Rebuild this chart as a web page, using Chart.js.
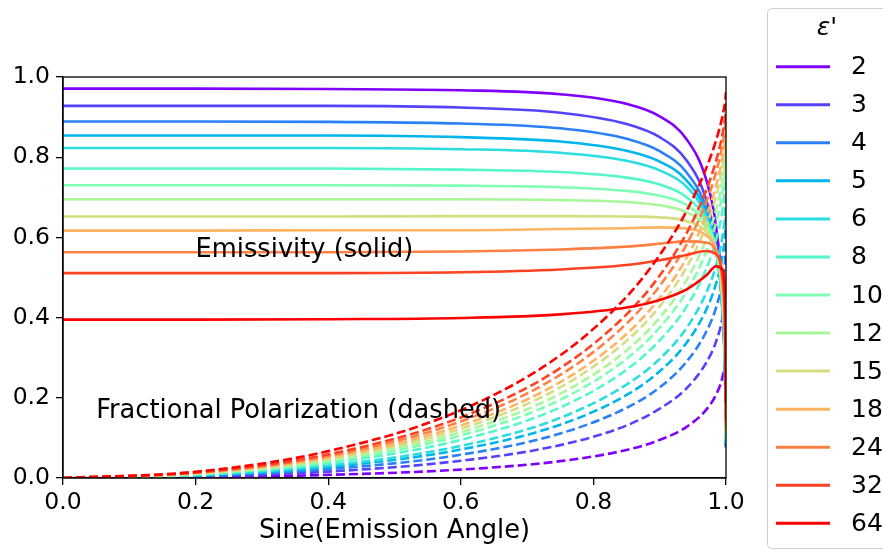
<!DOCTYPE html>
<html>
<head>
<meta charset="utf-8">
<script src="https://cdn.jsdelivr.net/npm/chart.js@4"></script>
<style>
  body { margin: 0; background: #fff; }
  canvas { display: block; }
</style>
</head>
<body>
<canvas id="myChart" width="883" height="553"></canvas>
<script>
// Dielectric constants shown in the legend
const epsValues = ['2', '3', '4', '5', '6', '8', '10', '12', '15', '18', '24', '32', '64'];

// Sine of the emission angle where the curves were read
const sineAngle = [0, 0.2, 0.4, 0.6, 0.75, 0.85, 0.9, 0.94, 0.97, 0.985, 0.995, 0.999, 0.9999];

// Emissivity (solid lines), one row per epsilon
const emissivity = [
    [0.971, 0.971, 0.970, 0.967, 0.957, 0.933, 0.902, 0.846, 0.745, 0.627, 0.441, 0.232, 0.081], // 2
    [0.928, 0.928, 0.928, 0.924, 0.911, 0.883, 0.850, 0.793, 0.695, 0.584, 0.411, 0.218, 0.076], // 3
    [0.889, 0.889, 0.888, 0.884, 0.872, 0.846, 0.815, 0.763, 0.674, 0.571, 0.407, 0.219, 0.077], // 4
    [0.854, 0.854, 0.854, 0.850, 0.839, 0.816, 0.789, 0.743, 0.662, 0.566, 0.410, 0.224, 0.080], // 5
    [0.823, 0.823, 0.823, 0.820, 0.811, 0.791, 0.767, 0.727, 0.653, 0.565, 0.415, 0.230, 0.083], // 6
    [0.772, 0.772, 0.772, 0.769, 0.763, 0.749, 0.732, 0.701, 0.642, 0.565, 0.426, 0.242, 0.089], // 8
    [0.730, 0.730, 0.730, 0.729, 0.725, 0.716, 0.704, 0.681, 0.633, 0.566, 0.437, 0.255, 0.095], // 10
    [0.695, 0.695, 0.695, 0.695, 0.693, 0.688, 0.680, 0.663, 0.625, 0.567, 0.447, 0.266, 0.101], // 12
    [0.652, 0.652, 0.652, 0.653, 0.653, 0.652, 0.650, 0.641, 0.614, 0.568, 0.459, 0.281, 0.109], // 15
    [0.617, 0.617, 0.618, 0.618, 0.621, 0.623, 0.625, 0.622, 0.605, 0.567, 0.469, 0.295, 0.116], // 18
    [0.563, 0.563, 0.563, 0.565, 0.570, 0.577, 0.584, 0.590, 0.587, 0.564, 0.484, 0.317, 0.129], // 24
    [0.511, 0.511, 0.511, 0.513, 0.520, 0.531, 0.543, 0.556, 0.566, 0.558, 0.498, 0.341, 0.144], // 32
    [0.395, 0.395, 0.396, 0.399, 0.408, 0.425, 0.444, 0.470, 0.505, 0.528, 0.519, 0.401, 0.187]  // 64
];

// Fractional polarization (dashed lines), one row per epsilon
const polarization = [
    [0, 0.0018, 0.0078, 0.021, 0.042, 0.070, 0.095, 0.127, 0.170, 0.208, 0.254, 0.296, 0.321], // 2
    [0, 0.0037, 0.016, 0.043, 0.082, 0.131, 0.173, 0.223, 0.287, 0.340, 0.402, 0.454, 0.485],  // 3
    [0, 0.0051, 0.022, 0.058, 0.111, 0.175, 0.226, 0.289, 0.364, 0.425, 0.494, 0.551, 0.584],  // 4
    [0, 0.0063, 0.027, 0.071, 0.133, 0.207, 0.266, 0.336, 0.419, 0.485, 0.559, 0.617, 0.651],  // 5
    [0, 0.0072, 0.031, 0.080, 0.150, 0.233, 0.297, 0.373, 0.461, 0.530, 0.606, 0.665, 0.699],  // 6
    [0, 0.0085, 0.037, 0.095, 0.176, 0.270, 0.343, 0.426, 0.521, 0.594, 0.671, 0.730, 0.763],  // 8
    [0, 0.0096, 0.041, 0.106, 0.195, 0.297, 0.375, 0.464, 0.563, 0.637, 0.715, 0.773, 0.804],  // 10
    [0, 0.0104, 0.044, 0.114, 0.210, 0.318, 0.400, 0.492, 0.594, 0.669, 0.746, 0.803, 0.833],  // 12
    [0, 0.0112, 0.048, 0.123, 0.226, 0.342, 0.428, 0.524, 0.628, 0.703, 0.779, 0.834, 0.862],  // 15
    [0, 0.0119, 0.051, 0.131, 0.239, 0.359, 0.449, 0.547, 0.653, 0.728, 0.803, 0.856, 0.883],  // 18
    [0, 0.0129, 0.055, 0.141, 0.257, 0.385, 0.479, 0.581, 0.687, 0.763, 0.835, 0.885, 0.909],  // 24
    [0, 0.0138, 0.059, 0.151, 0.274, 0.408, 0.505, 0.609, 0.717, 0.791, 0.861, 0.907, 0.930],  // 32
    [0, 0.0156, 0.067, 0.169, 0.306, 0.452, 0.556, 0.664, 0.772, 0.842, 0.905, 0.944, 0.962]   // 64
];

// Tick labels on both axes
const tickLabels = ['0.0', '0.2', '0.4', '0.6', '0.8', '1.0'];

// rainbow colours, purple -> red
const colors = [
    '#8000ff', '#5542fd', '#2a80f6', '#00b4ec', '#2addde', '#55f6ca', '#80ffb4',
    '#aaf69b', '#d4dd80', '#ffb462', '#ff8042', '#ff4221', '#ff0000'
];

const FONT = "'DejaVu Sans', 'Liberation Sans', sans-serif";

// build datasets: solid then dashed for each epsilon, later ones on top
const datasets = [];
epsValues.forEach(function(eps, i) {
    datasets.push({
        label: eps,
        data: sineAngle.map((x, j) => ({ x: x, y: emissivity[i][j] })),
        borderColor: colors[i],
        borderWidth: 2.6,
        pointRadius: 0,
        cubicInterpolationMode: 'monotone',
        order: 100 - 2 * i
    });
    datasets.push({
        label: eps + ' pol',
        data: sineAngle.map((x, j) => ({ x: x, y: polarization[i][j] })),
        borderColor: colors[i],
        borderWidth: 2.6,
        borderDash: [9, 4],
        pointRadius: 0,
        cubicInterpolationMode: 'monotone',
        order: 99 - 2 * i
    });
});

// frame, text notes and the legend box
const extras = {
    id: 'extras',
    afterDatasetsDraw(chart) {
        const ctx = chart.ctx;
        const a = chart.chartArea;
        const xs = chart.scales.x, ys = chart.scales.y;
        ctx.save();
        ctx.strokeStyle = '#000';
        ctx.lineWidth = 1.3;
        ctx.strokeRect(a.left, a.top, a.right - a.left, a.bottom - a.top);

        ctx.fillStyle = '#000';
        ctx.font = '25.7px ' + FONT;
        ctx.textAlign = 'left';
        ctx.textBaseline = 'alphabetic';
        ctx.fillText('Emissivity (solid)', xs.getPixelForValue(0.2), ys.getPixelForValue(0.55));
        ctx.fillText('Fractional Polarization (dashed)', xs.getPixelForValue(0.05), ys.getPixelForValue(0.15));
        ctx.restore();
    },
    afterDraw(chart) {
        const ctx = chart.ctx;
        ctx.save();
        // legend frame
        const bx = 767.5, by = 8.5, bw = 130, bh = 540, r = 4;
        ctx.beginPath();
        ctx.moveTo(bx + r, by);
        ctx.lineTo(bx + bw, by);
        ctx.lineTo(bx + bw, by + bh);
        ctx.lineTo(bx + r, by + bh);
        ctx.arcTo(bx, by + bh, bx, by + bh - r, r);
        ctx.lineTo(bx, by + r);
        ctx.arcTo(bx, by, bx + r, by, r);
        ctx.closePath();
        ctx.fillStyle = 'rgba(255,255,255,0.8)';
        ctx.fill();
        ctx.strokeStyle = '#d0d0d0';
        ctx.lineWidth = 1;
        ctx.stroke();

        ctx.fillStyle = '#000';
        ctx.textBaseline = 'middle';
        ctx.textAlign = 'center';
        ctx.font = 'italic 25px ' + FONT;
        ctx.fillText("\u03b5'", 827, 28);

        ctx.textAlign = 'left';
        ctx.font = '25px ' + FONT;
        epsValues.forEach(function(eps, i) {
            const y = 66.7 + 38.05 * i;
            ctx.beginPath();
            ctx.moveTo(776, y);
            ctx.lineTo(830, y);
            ctx.strokeStyle = colors[i];
            ctx.lineWidth = 3;
            ctx.stroke();
            ctx.fillText(eps, 851, y + 1);
        });
        ctx.restore();
    }
};

Chart.defaults.color = '#000';
Chart.defaults.font.family = FONT;

const ctx = document.getElementById('myChart').getContext('2d');
const myChart = new Chart(ctx, {
    type: 'line',
    data: { datasets: datasets },
    options: {
        responsive: false,
        animation: false,
        layout: { padding: { left: 0, top: 77, right: 157, bottom: 0 } },
        plugins: {
            legend: { display: false },
            tooltip: { enabled: false }
        },
        scales: {
            x: {
                type: 'linear',
                min: 0,
                max: 1,
                afterFit(scale) { scale.height = 75; },
                afterBuildTicks(scale) {
                    scale.ticks = tickLabels.map(t => ({ value: parseFloat(t) }));
                },
                ticks: {
                    font: { size: 23.5 },
                    padding: 4,
                    maxRotation: 0,
                    callback: (v) => v.toFixed(1)
                },
                grid: { drawOnChartArea: false, drawTicks: true, tickLength: 7, color: '#000', lineWidth: 1.3 },
                border: { display: true, color: '#000', width: 1.3 },
                title: {
                    display: true,
                    text: 'Sine(Emission Angle)',
                    font: { size: 25.7 },
                    padding: { top: 0, bottom: 6 }
                }
            },
            y: {
                type: 'linear',
                min: 0,
                max: 1,
                afterFit(scale) { scale.width = 63; },
                afterBuildTicks(scale) {
                    scale.ticks = tickLabels.map(t => ({ value: parseFloat(t) }));
                },
                ticks: {
                    font: { size: 23.5 },
                    padding: 6,
                    callback: (v) => v.toFixed(1)
                },
                grid: { drawOnChartArea: false, drawTicks: true, tickLength: 7, color: '#000', lineWidth: 1.3 },
                border: { display: true, color: '#000', width: 1.3 }
            }
        }
    },
    plugins: [extras]
});
</script>
</body>
</html>
